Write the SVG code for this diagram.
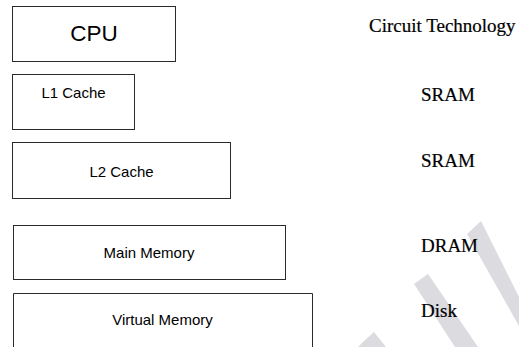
<svg xmlns="http://www.w3.org/2000/svg" width="519" height="347" viewBox="0 0 519 347">
<style>
.box{fill:#fff;stroke:#2a2a2a;stroke-width:1}
.lbl{font-family:"Liberation Sans",Arial,sans-serif;fill:#000;text-anchor:middle}
.tech{font-family:"Liberation Serif","Times New Roman",serif;fill:#000;stroke:#000;stroke-width:0.2;font-size:19px}
.wm{fill:#dcdce0}
</style>
<rect width="519" height="347" fill="#fff"/>
<g id="watermark">
<polygon class="wm" points="467,234 481,221 519,297 519,326"/>
<polygon class="wm" points="414,284 428,274 478,347 455,347"/>
<polygon class="wm" points="364,341 374,332 386,347 358,347"/>
</g>
<g id="connectors"></g>
<g id="cpu">
<rect class="box" x="12.5" y="6.5" width="163" height="55"/>
<text class="lbl" x="94" y="41" font-size="22.5">CPU</text>
</g>
<g id="l1-cache">
<rect class="box" x="12.5" y="74.5" width="122" height="55"/>
<text class="lbl" x="73.5" y="97.5" font-size="15">L1 Cache</text>
</g>
<g id="l2-cache">
<rect class="box" x="12.5" y="142.5" width="218" height="56"/>
<text class="lbl" x="121.5" y="176.5" font-size="15">L2 Cache</text>
</g>
<g id="main-memory">
<rect class="box" x="13.5" y="225.5" width="272" height="54"/>
<text class="lbl" x="149" y="258" font-size="15">Main Memory</text>
</g>
<g id="virtual-memory">
<path class="box" d="M13.5,348 V293.5 H312.5 V348"/>
<text class="lbl" x="162.5" y="325" font-size="15">Virtual Memory</text>
</g>
<g id="technology">
<text class="tech" x="369" y="32">Circuit Technology</text>
<text class="tech" x="421" y="100.5">SRAM</text>
<text class="tech" x="421" y="167">SRAM</text>
<text class="tech" x="421" y="251.5">DRAM</text>
<text class="tech" x="421" y="317">Disk</text>
</g>
</svg>
